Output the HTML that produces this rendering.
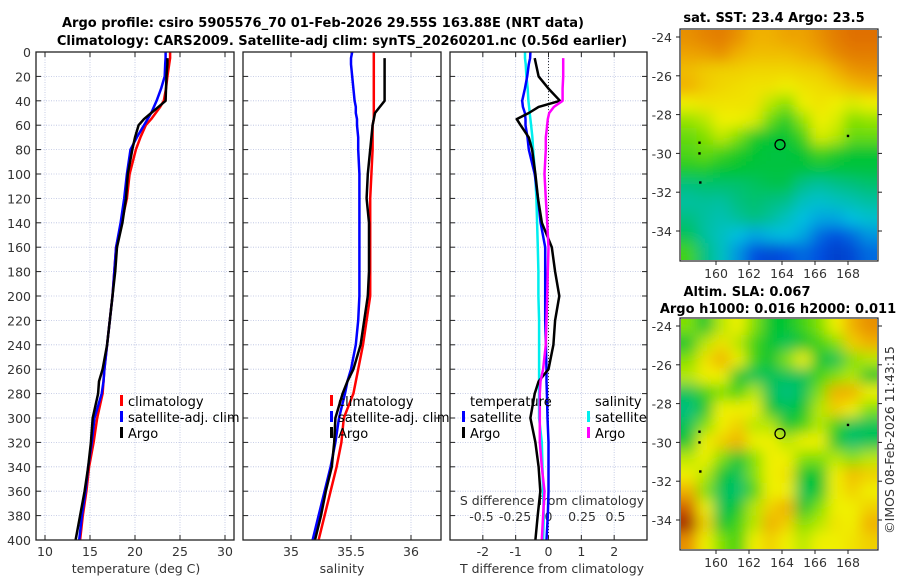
<!DOCTYPE html>
<html><head><meta charset="utf-8"><style>
body{margin:0;background:#fff;}
svg{display:block;font-family:"DejaVu Sans","Liberation Sans",sans-serif;}
.tk{font-size:12.5px;fill:#333;}
.ttl{font-size:13px;font-weight:bold;fill:#000;}
.lg{font-size:13px;fill:#000;}
</style></head><body>
<svg id="fig" width="900" height="580" viewBox="0 0 900 580">
<defs>
<filter id="blur1" x="0" y="0" width="100%" height="100%"><feGaussianBlur stdDeviation="7"/></filter>
<clipPath id="cm1"><rect x="681" y="30" width="196" height="230"/></clipPath>
<clipPath id="cm2"><rect x="681" y="319" width="196" height="230"/></clipPath>
<clipPath id="cp1"><rect x="36" y="52" width="198" height="488"/></clipPath>
<clipPath id="cp2"><rect x="243" y="52" width="198" height="488"/></clipPath>
<clipPath id="cp3"><rect x="450" y="52" width="197" height="488"/></clipPath>
</defs>
<text class="ttl" x="323" y="27" text-anchor="middle">Argo profile: csiro 5905576_70 01-Feb-2026 29.55S 163.88E (NRT data)</text>
<text class="ttl" x="342" y="45" text-anchor="middle">Climatology: CARS2009. Satellite-adj clim: synTS_20260201.nc (0.56d earlier)</text>
<text class="ttl" x="774" y="22" text-anchor="middle">sat. SST: 23.4 Argo: 23.5</text>
<text class="ttl" x="747" y="296" text-anchor="middle">Altim. SLA: 0.067</text>
<text class="ttl" x="778" y="313" text-anchor="middle">Argo h1000: 0.016 h2000: 0.011</text>
<text class="tk" transform="translate(894,440) rotate(-90)" text-anchor="middle">©IMOS 08-Feb-2026 11:43:15</text>
<g id="layer"></g>
</svg>
<script>
// ---- profile data (depth in m) ----
const depths   = [0,5,10,20,30,40,45,50,55,60,70,80,100,120,140,160,180,200,220,240,260,270,280,300,320,340,360,380,400];
const tClim    = [23.9,23.9,23.8,23.6,23.45,23.2,22.8,22.3,21.8,21.2,20.6,20.1,19.4,19.1,18.5,17.9,17.7,17.5,17.2,16.9,16.6,16.5,16.4,15.8,15.4,14.9,14.6,14.2,13.9];
const tSat     = [23.4,23.4,23.35,23.3,22.9,22.4,22.1,21.8,21.4,21.0,20.2,19.5,19.1,18.8,18.4,17.9,17.7,17.5,17.2,16.9,16.6,16.5,16.3,15.5,15.2,14.8,14.5,14.1,13.8];
const tArgo    = [null,23.6,23.6,23.5,23.45,23.4,22.6,21.8,21.0,20.4,20.0,19.7,19.2,19.0,18.6,18.0,17.8,17.5,17.2,16.9,16.4,16.0,15.9,15.3,15.1,14.8,14.4,13.9,13.4];
const sClim    = [35.69,35.69,35.69,35.69,35.69,35.69,35.69,35.69,35.69,35.68,35.68,35.68,35.67,35.66,35.66,35.66,35.66,35.66,35.63,35.6,35.56,35.54,35.52,35.44,35.42,35.38,35.33,35.28,35.23];
const sSat     = [35.51,35.5,35.5,35.51,35.52,35.53,35.54,35.54,35.55,35.55,35.56,35.56,35.57,35.57,35.57,35.57,35.57,35.57,35.56,35.54,35.5,35.47,35.45,35.4,35.37,35.33,35.28,35.23,35.18];
const sArgo    = [null,35.78,35.78,35.78,35.78,35.78,35.74,35.70,35.69,35.68,35.67,35.66,35.64,35.63,35.65,35.65,35.65,35.64,35.61,35.58,35.52,35.47,35.43,35.37,35.36,35.34,35.29,35.25,35.2];
const dTSat    = [-0.55,-0.56,-0.6,-0.65,-0.72,-0.8,-0.78,-0.72,-0.7,-0.7,-0.64,-0.6,-0.42,-0.32,-0.24,-0.1,-0.1,-0.1,-0.1,-0.08,-0.06,-0.06,-0.05,-0.03,0,0,0,-0.02,-0.06];
const dSSat    = [-0.175,-0.175,-0.17,-0.165,-0.155,-0.15,-0.145,-0.14,-0.135,-0.13,-0.12,-0.115,-0.1,-0.09,-0.085,-0.08,-0.075,-0.075,-0.07,-0.07,-0.07,-0.07,-0.07,-0.07,-0.05,-0.045,-0.04,-0.035,-0.04];
const dTArgo   = [null,-0.42,-0.38,-0.3,0.0,0.35,-0.3,-0.6,-0.97,-0.85,-0.6,-0.5,-0.4,-0.32,-0.2,0.1,0.2,0.33,0.2,0.15,0.0,-0.3,-0.42,-0.55,-0.4,-0.3,-0.25,-0.33,-0.4];
const dSArgo   = [null,0.11,0.11,0.11,0.105,0.105,0.04,0.005,-0.005,-0.01,-0.02,-0.02,-0.03,-0.02,-0.01,0.0,-0.005,-0.01,-0.015,-0.02,-0.04,-0.06,-0.065,-0.065,-0.065,-0.05,-0.03,-0.04,-0.05];
// ---- axis ticks ----
const depthTicks = [0,20,40,60,80,100,120,140,160,180,200,220,240,260,280,300,320,340,360,380,400];
const tTicks = [10,15,20,25,30];
const sTicks = [35,35.5,36];
const sTickLabels = ["35","35.5","36"];
const dTTicks = [-2,-1,0,1,2];
const dSTicks = [-0.5,-0.25,0,0.25,0.5];
const dSTickLabels = ["-0.5","-0.25","0","0.25","0.5"];
const lonTicks = [160,162,164,166,168];
const latTicks = [-24,-26,-28,-30,-32,-34];
// ---- map grids (normalized colour value, rows north->south) ----
const sstGrid = [
[.85,.87,.88,.85,.80,.80,.82,.82,.85,.88,.90,.90],
[.82,.83,.85,.80,.78,.78,.78,.80,.82,.86,.88,.88],
[.78,.76,.75,.75,.74,.74,.74,.75,.76,.80,.84,.85],
[.80,.76,.74,.73,.72,.72,.70,.72,.73,.75,.78,.80],
[.70,.72,.72,.72,.72,.65,.60,.70,.72,.70,.68,.70],
[.62,.65,.70,.70,.68,.58,.52,.62,.70,.68,.60,.62],
[.58,.60,.66,.60,.52,.50,.50,.55,.68,.65,.58,.58],
[.56,.58,.55,.52,.50,.48,.48,.50,.55,.52,.50,.50],
[.52,.52,.50,.50,.48,.48,.48,.48,.48,.48,.48,.48],
[.40,.42,.42,.42,.44,.46,.46,.38,.35,.38,.40,.42],
[.35,.36,.35,.40,.42,.40,.38,.30,.28,.30,.32,.35],
[.40,.35,.32,.36,.40,.36,.30,.25,.22,.22,.25,.28],
[.45,.35,.30,.25,.22,.24,.25,.22,.15,.12,.15,.20],
[.55,.40,.30,.20,.12,.10,.12,.15,.12,.08,.10,.15]];
const slaGrid = [
[.60,.50,.65,.70,.60,.50,.50,.55,.60,.70,.80,.85],
[.50,.65,.72,.65,.55,.50,.45,.50,.55,.60,.75,.80],
[.60,.72,.80,.70,.55,.50,.60,.70,.50,.45,.60,.65],
[.65,.70,.70,.50,.45,.45,.45,.45,.55,.60,.65,.50],
[.45,.55,.60,.55,.65,.45,.40,.45,.60,.80,.80,.70],
[.40,.50,.70,.70,.70,.50,.45,.50,.65,.75,.70,.60],
[.45,.60,.70,.75,.65,.65,.50,.55,.65,.55,.45,.45],
[.50,.70,.75,.80,.70,.70,.65,.70,.70,.50,.42,.45],
[.65,.70,.60,.50,.60,.70,.70,.60,.60,.65,.60,.65],
[.70,.65,.50,.45,.60,.70,.72,.50,.50,.70,.78,.75],
[.80,.60,.45,.42,.55,.70,.70,.45,.50,.70,.75,.70],
[.92,.70,.45,.50,.65,.75,.80,.50,.60,.70,.70,.75],
[1.0,.75,.50,.55,.65,.80,.75,.60,.65,.72,.70,.80],
[.85,.70,.60,.55,.70,.75,.70,.65,.70,.70,.72,.75]];
const floatLon = 163.88, floatLat = -29.55;
const otherLon = [159.0,159.0,159.05,168.0];
const otherLat = [-29.45,-30.0,-31.5,-29.1];

const NS='http://www.w3.org/2000/svg';
const L=document.getElementById('layer');
function el(t,a,p){const e=document.createElementNS(NS,t);for(const k in a)e.setAttribute(k,a[k]);(p||L).appendChild(e);return e;}
function lin(d0,d1,r0,r1){return v=>r0+(v-d0)*(r1-r0)/(d1-d0);}
const yD=lin(0,400,52,540);
const panels=[
 {x0:36,x1:234,xs:lin(9,31,36,234),clip:'cp1',name:'temperature'},
 {x0:243,x1:441,xs:lin(34.6,36.25,243,441),clip:'cp2',name:'salinity'},
 {x0:450,x1:647,xs:lin(-3,3,450,647),clip:'cp3',name:'difference'}];
const xS3=lin(-0.735,0.735,450,647);
function grid(p,xt){
 const g=el('g',{});
 
 
 depthTicks.forEach(d=>{el('line',{x1:p.x0,x2:p.x1,y1:yD(d),y2:yD(d),stroke:'#b8c0e0','stroke-width':0.8,'stroke-dasharray':'1,1.5'},g);
  el('line',{x1:p.x0,x2:p.x0+5,y1:yD(d),y2:yD(d),stroke:'#222'},g);el('line',{x1:p.x1,x2:p.x1-5,y1:yD(d),y2:yD(d),stroke:'#222'},g);});
 xt.forEach(v=>{const x=p.xs(v);el('line',{x1:x,x2:x,y1:52,y2:540,stroke:'#b8c0e0','stroke-width':0.8,'stroke-dasharray':'1,1.5'},g);
  el('line',{x1:x,x2:x,y1:540,y2:535,stroke:'#222'},g);el('line',{x1:x,x2:x,y1:52,y2:57,stroke:'#222'},g);});
}
function frame(p){const r=el('rect',{x:p.x0,y:52,width:p.x1-p.x0,height:488,fill:'none',stroke:'#222','stroke-width':1.3});
 
 }
function line(vals,xs,col,w,clip,name){
 let d='';let started=false;
 vals.forEach((v,i)=>{if(v===null)return;d+=(started?'L':'M')+xs(v).toFixed(1)+','+yD(depths[i]).toFixed(1);started=true;});
 const e=el('path',{d:d,fill:'none',stroke:col,'stroke-width':w,'stroke-linejoin':'round','clip-path':'url(#'+clip+')'});
 
 
}
function txt(s,x,y,cls,anc,name){const t=el('text',{x:x,y:y,class:cls,'text-anchor':anc||'start'});t.textContent=s;
 
 return t;}
grid(panels[0],tTicks);grid(panels[1],sTicks);grid(panels[2],dTTicks);
el('line',{x1:xS3(0),x2:xS3(0),y1:52,y2:540,stroke:'#333','stroke-width':1,'stroke-dasharray':'1,2'});
depthTicks.forEach(d=>txt(String(d),31,yD(d)+5,'tk','end','depth-tick-label'));
tTicks.forEach(v=>txt(String(v),panels[0].xs(v),556,'tk','middle','temperature-tick-label'));
sTicks.forEach((v,i)=>txt(sTickLabels[i],panels[1].xs(v),556,'tk','middle','salinity-tick-label'));
dTTicks.forEach(v=>txt(String(v),panels[2].xs(v),556,'tk','middle','t-diff-tick-label'));
dSTicks.forEach((v,i)=>txt(dSTickLabels[i],xS3(v),521,'tk','middle','s-diff-tick-label'));
txt('temperature (deg C)',136,573,'tk','middle','temperature-axis-title');
txt('salinity',342,573,'tk','middle','salinity-axis-title');
txt('T difference from climatology',552,573,'tk','middle','t-diff-axis-title');
txt('S difference from climatology',552,505,'tk','middle','s-diff-axis-title');
line(tClim,panels[0].xs,'#f00',2.5,'cp1','temperature-climatology-line');
line(tSat,panels[0].xs,'#00f',2.5,'cp1','temperature-satellite-line');
line(tArgo,panels[0].xs,'#000',2.5,'cp1','temperature-argo-line');
line(sClim,panels[1].xs,'#f00',2.5,'cp2','salinity-climatology-line');
line(sSat,panels[1].xs,'#00f',2.5,'cp2','salinity-satellite-line');
line(sArgo,panels[1].xs,'#000',2.5,'cp2','salinity-argo-line');
line(dSSat,xS3,'#0ee',2.5,'cp3','s-diff-satellite-line');
line(dTSat,panels[2].xs,'#00f',2.5,'cp3','t-diff-satellite-line');
line(dTArgo,panels[2].xs,'#000',2.5,'cp3','t-diff-argo-line');
line(dSArgo,xS3,'#f0f',2.5,'cp3','s-diff-argo-line');
frame(panels[0]);frame(panels[1]);frame(panels[2]);
function leg(x,y,col,label,name){el('rect',{x:x,y:y-11,width:3,height:11,fill:col});txt(label,x+8,y,'lg','start',name);}
leg(120,406,'#f00','climatology','legend-climatology');leg(120,422,'#00f','satellite-adj. clim','legend-satellite-adj');leg(120,438,'#000','Argo','legend-argo');
leg(330,406,'#f00','climatology','legend-climatology-2');leg(330,422,'#00f','satellite-adj. clim','legend-satellite-adj-2');leg(330,438,'#000','Argo','legend-argo-2');
txt('temperature',470,406,'lg','start','legend-temperature-heading');
leg(462,422,'#00f','satellite','legend-t-satellite');leg(462,438,'#000','Argo','legend-t-argo');
txt('salinity',595,406,'lg','start','legend-salinity-heading');
leg(587,422,'#0ee','satellite','legend-s-satellite');leg(587,438,'#f0f','Argo','legend-s-argo');
// maps
const stops=[[0,[0,32,160]],[.12,[0,80,224]],[.25,[0,192,224]],[.4,[0,192,128]],[.5,[0,196,48]],[.6,[128,224,0]],[.7,[240,240,0]],[.8,[240,176,0]],[.9,[224,112,0]],[1,[160,32,0]]];
function cmap(v){for(let i=1;i<stops.length;i++){if(v<=stops[i][0]){const a=stops[i-1],b=stops[i],t=(v-a[0])/(b[0]-a[0]);return 'rgb('+a[1].map((c,k)=>Math.round(c+(b[1][k]-c)*t)).join(',')+')';}}return 'rgb(160,32,0)';}
const lonS=lin(160,168,716,848);
function map(gridV,yTop,clip,name){
 const latS=lin(-24,-34,yTop+7,yTop+201);
 const g=el('g',{'clip-path':'url(#'+clip+')'});
 
 
 const inner=el('g',{filter:'url(#blur1)'},g);
 const rows=gridV.length,cols=gridV[0].length,cw=196/cols,ch=230/rows;
 gridV.forEach((r,i)=>r.forEach((v,j)=>{
  let x=681+j*cw-0.5,y=yTop+i*ch-0.5,w=cw+1,h=ch+1;
  if(j===0){x-=20;w+=20;} if(j===cols-1){w+=20;}
  if(i===0){y-=20;h+=20;} if(i===rows-1){h+=20;}
  const c=el('rect',{x:x,y:y,width:w,height:h,fill:cmap(v)},inner);
  
  }));
 const fr=el('rect',{x:680,y:yTop-1,width:198,height:232,fill:'none',stroke:'#222','stroke-width':1.2});
 
 
 latTicks.forEach(v=>{const y=latS(v);el('line',{x1:680,x2:676,y1:y,y2:y,stroke:'#222'});el('line',{x1:878,x2:882,y1:y,y2:y,stroke:'#222'});txt(String(v),672,y+5,'tk','end',name+'-lat-label');});
 lonTicks.forEach(v=>{const x=lonS(v);el('line',{x1:x,x2:x,y1:yTop+231,y2:yTop+235,stroke:'#222'});txt(String(v),x,yTop+248,'tk','middle',name+'-lon-label');});
 const c=el('circle',{cx:lonS(floatLon),cy:latS(floatLat),r:5,fill:'none',stroke:'#000','stroke-width':1.3});
 
 
 otherLon.forEach((lo,i)=>{const d=el('rect',{x:lonS(lo)-1.2,y:latS(otherLat[i])-1.2,width:2.4,height:2.4,fill:'#000'});
  
  });
}
map(sstGrid,30,'cm1','sst-map');
map(slaGrid,319,'cm2','sla-map');
</script>
</body></html>
